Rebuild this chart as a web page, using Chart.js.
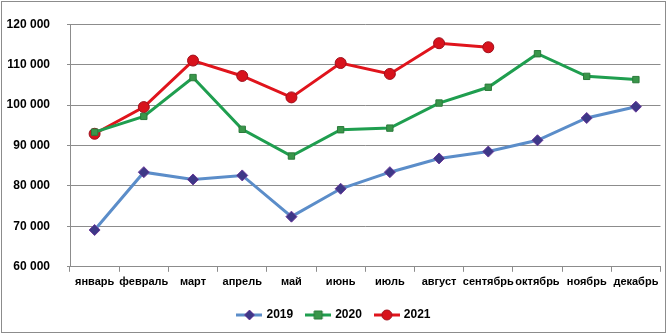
<!DOCTYPE html>
<html lang="ru">
<head>
  <meta charset="UTF-8">
  <title>2019–2021</title>
  <script src="https://cdn.jsdelivr.net/npm/chart.js"></script>
  <style>
    html, body { margin: 0; padding: 0; background: #fff; }
    #wrap { width: 667px; height: 335px; }
  </style>
</head>
<body>
  <div id="wrap"><canvas id="lineChart" width="667" height="335"></canvas></div>
  <script>
    const months = ["январь", "февраль", "март", "апрель", "май", "июнь", "июль", "август", "сентябрь", "октябрь", "ноябрь", "декабрь"];
    const years = ["2019", "2020", "2021"];
    const values2019 = [69100, 83400, 81600, 82600, 72400, 79300, 83400, 86800, 88500, 91300, 96800, 99600];
    const values2020 = [93300, 97200, 106800, 94000, 87400, 93900, 94300, 100500, 104400, 112700, 107100, 106300];
    const values2021 = [92900, 99500, 111000, 107200, 101900, 110400, 107700, 115300, 114300, null, null, null];
    const yTicks = [60000, 70000, 80000, 90000, 100000, 110000, 120000];

    const font = "'Liberation Sans', Arial, sans-serif";

    // legend sample: short line with the marker in the middle
    function legendIcon(color, markColor, markBorder, shape) {
      const c = document.createElement("canvas");
      c.width = 26; c.height = 12;
      const g = c.getContext("2d");
      g.strokeStyle = color; g.lineWidth = 3;
      g.beginPath(); g.moveTo(0, 6); g.lineTo(26, 6); g.stroke();
      g.fillStyle = markColor; g.strokeStyle = markBorder; g.lineWidth = 1;
      g.beginPath();
      if (shape === "rectRot") {
        g.moveTo(13, 1); g.lineTo(18, 6); g.lineTo(13, 11); g.lineTo(8, 6); g.closePath();
      } else if (shape === "rect") {
        g.rect(9, 2, 8, 8);
      } else {
        g.arc(13, 6, 5, 0, Math.PI * 2);
      }
      g.fill(); g.stroke();
      return c;
    }

    const styles = [
      { line: "#5b8dc9", fill: "#3d3887", border: "#6a3a9a", shape: "rectRot", r: 5.5 },
      { line: "#1f9e4f", fill: "#39964a", border: "#2a7a3a", shape: "rect", r: 4.5 },
      { line: "#e0141c", fill: "#d8121c", border: "#a0101c", shape: "circle", r: 5.5 }
    ];
    const series = [values2019, values2020, values2021];

    const borderPlugin = {
      id: "outerBorder",
      beforeDraw(chart) {
        const ctx = chart.ctx;
        ctx.save();
        ctx.fillStyle = "#fff";
        ctx.fillRect(0, 0, chart.width, chart.height);
        ctx.strokeStyle = "#8c8c8c";
        ctx.lineWidth = 1;
        ctx.strokeRect(1.5, 1.5, chart.width - 3, chart.height - 4);
        ctx.restore();
      }
    };

    new Chart(document.getElementById("lineChart").getContext("2d"), {
      type: "line",
      data: {
        labels: months,
        datasets: series.map((data, i) => ({
          label: years[i],
          data: data,
          borderColor: styles[i].line,
          borderWidth: 3,
          pointStyle: styles[i].shape,
          pointRadius: styles[i].r,
          pointBackgroundColor: styles[i].fill,
          pointBorderColor: styles[i].border,
          pointBorderWidth: 1,
          tension: 0,
          spanGaps: false,
          fill: false
        }))
      },
      options: {
        responsive: false,
        animation: false,
        layout: { padding: { left: 2, right: 0, top: 6, bottom: 4 } },
        plugins: {
          title: { display: false },
          tooltip: { enabled: false },
          legend: {
            display: true,
            position: "bottom",
            labels: {
              usePointStyle: true,
              pointStyleWidth: 22,
              boxHeight: 12,
              padding: 14,
              color: "#000",
              font: { family: font, size: 12, weight: "bold" },
              generateLabels(chart) {
                return years.map((y, i) => ({
                  text: y,
                  pointStyle: legendIcon(styles[i].line, styles[i].fill, styles[i].border, styles[i].shape),
                  fillStyle: styles[i].line,
                  strokeStyle: styles[i].line,
                  lineWidth: 0,
                  datasetIndex: i,
                  hidden: false
                }));
              }
            }
          }
        },
        scales: {
          x: {
            offset: true,
            afterFit(scale) { scale.height += 2; },
            grid: {
              offset: true,
              drawOnChartArea: false,
              drawTicks: true,
              tickLength: 5,
              color: "#8c8c8c"
            },
            border: { color: "#8c8c8c", width: 1 },
            ticks: {
              autoSkip: false,
              maxRotation: 0,
              padding: 4,
              color: "#000",
              font: { family: font, size: 11, weight: "bold" }
            }
          },
          y: {
            min: 60000,
            max: 120000,
            afterBuildTicks(scale) {
              scale.ticks = yTicks.map(v => ({ value: v }));
            },
            afterFit(scale) { scale.width = 68; },
            grid: { color: "#8c8c8c", tickLength: 3, drawTicks: true },
            border: { color: "#8c8c8c", width: 1 },
            ticks: {
              padding: 17,
              color: "#000",
              font: { family: font, size: 12, weight: "bold" },
              callback: v => String(v).replace(/\B(?=(\d{3})+(?!\d))/g, " ")
            }
          }
        }
      },
      plugins: [borderPlugin]
    });
  </script>
</body>
</html>
